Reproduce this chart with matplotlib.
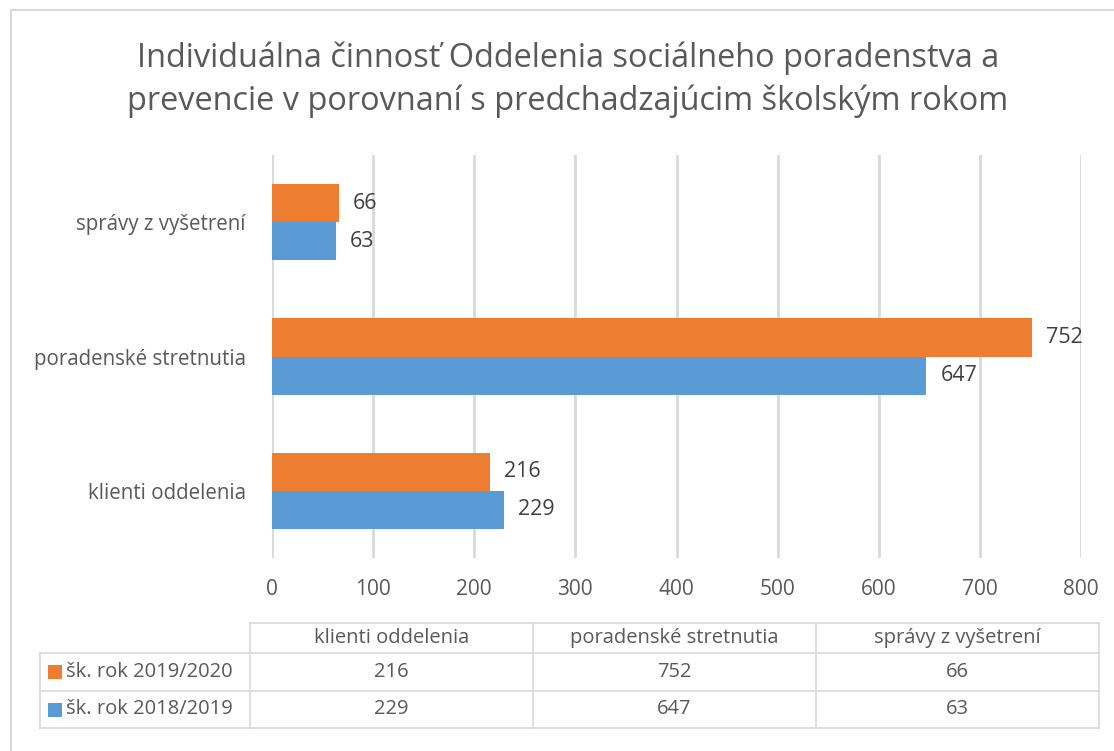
import matplotlib
matplotlib.use("Agg")
import matplotlib.pyplot as plt
from matplotlib.patches import Rectangle
from matplotlib.lines import Line2D

categories = ["klienti oddelenia", "poradenské stretnutia", "správy z vyšetrení"]
series_names = ["šk. rok 2019/2020", "šk. rok 2018/2019"]
values_2019_2020 = [216, 752, 66]
values_2018_2019 = [229, 647, 63]
xticks = [0, 100, 200, 300, 400, 500, 600, 700, 800]
title = "Individuálna činnosť Oddelenia sociálneho poradenstva a\nprevencie v porovnaní s predchadzajúcim školským rokom"

ORANGE = "#ED7D31"
BLUE = "#5B9BD5"
TXT = "#595959"
GRID = "#D9D9D9"

plt.rcParams['font.family'] = ['Open Sans', 'DejaVu Sans']

W, H = 1114, 751
fig = plt.figure(figsize=(W / 100, H / 100), dpi=100)

def fx(px):
    return px / W

def fy(py):
    return 1 - py / H

# outer frame
fig.patches.append(Rectangle((fx(11), fy(760)), fx(1130) - fx(11), fy(10) - fy(760),
                             transform=fig.transFigure, fill=False, edgecolor=GRID,
                             linewidth=1.5, clip_on=False))

ax = fig.add_axes([fx(272), fy(558), fx(1081) - fx(272), fy(155) - fy(558)])
y = list(range(len(categories)))
h = 0.285
ax.barh([v + h / 2 for v in y], values_2019_2020, height=h, color=ORANGE, zorder=3)
ax.barh([v - h / 2 for v in y], values_2018_2019, height=h, color=BLUE, zorder=3)

for i, (a, b) in enumerate(zip(values_2019_2020, values_2018_2019)):
    ax.annotate(str(a), (a, i + h / 2), xytext=(14, 0), textcoords="offset pixels",
                va="center", ha="left", fontsize=15.5, color="#404040")
    ax.annotate(str(b), (b, i - h / 2), xytext=(14, 0), textcoords="offset pixels",
                va="center", ha="left", fontsize=15.5, color="#404040")

ax.set_xlim(0, 800)
ax.set_ylim(-0.5, 2.5)
ax.set_xticks(xticks)
ax.set_xticklabels([str(t) for t in xticks], fontsize=15, color=TXT)
ax.set_yticks(y)
ax.set_yticklabels(categories, fontsize=14.8, color=TXT)
ax.tick_params(axis="x", length=0, pad=15)
ax.tick_params(axis="y", length=0, pad=19)
for s in ax.spines.values():
    s.set_visible(False)
ax.xaxis.grid(True, color=GRID, linewidth=2, zorder=0)
ax.set_axisbelow(True)

fig.text(fx(568), fy(80), title, ha="center", va="center", fontsize=23.4, color=TXT,
         linespacing=1.36)

# data table
tfont = ['Open Sans', 'DejaVu Sans']
col_edges = [250, 533, 816, 1099]
row_edges = [623, 653, 691, 728]
left_edge = 40
lw = 1.2
def hline(py, x0, x1):
    fig.add_artist(Line2D([fx(x0), fx(x1)], [fy(py), fy(py)], color=GRID, linewidth=lw,
                          transform=fig.transFigure))
def vline(px, y0, y1):
    fig.add_artist(Line2D([fx(px), fx(px)], [fy(y0), fy(y1)], color=GRID, linewidth=lw,
                          transform=fig.transFigure))

hline(row_edges[0], col_edges[0], col_edges[-1])
for r in row_edges[1:]:
    hline(r, left_edge, col_edges[-1])
vline(left_edge, row_edges[1], row_edges[-1])
for c in col_edges:
    vline(c, row_edges[0], row_edges[-1])

for j, cat in enumerate(categories):
    cx = (col_edges[j] + col_edges[j + 1]) / 2
    fig.text(fx(cx), fy((row_edges[0] + row_edges[1]) / 2), cat, ha="center", va="center",
             fontsize=14.5, color=TXT, family=tfont)

rows = [values_2019_2020, values_2018_2019]
colors = [ORANGE, BLUE]
for i, (name, vals, col) in enumerate(zip(series_names, rows, colors)):
    cy = (row_edges[i + 1] + row_edges[i + 2]) / 2
    fig.patches.append(Rectangle((fx(48), fy(cy + 7)), fx(62) - fx(48), fy(cy - 7) - fy(cy + 7),
                                 transform=fig.transFigure, facecolor=col, edgecolor="none"))
    fig.text(fx(66), fy(cy), name, ha="left", va="center", fontsize=14.5, color=TXT,
             family=tfont)
    for j, v in enumerate(vals):
        cx = (col_edges[j] + col_edges[j + 1]) / 2
        fig.text(fx(cx), fy(cy), str(v), ha="center", va="center", fontsize=14.5,
                 color=TXT, family=tfont)

fig.savefig("out.png", dpi=100)
